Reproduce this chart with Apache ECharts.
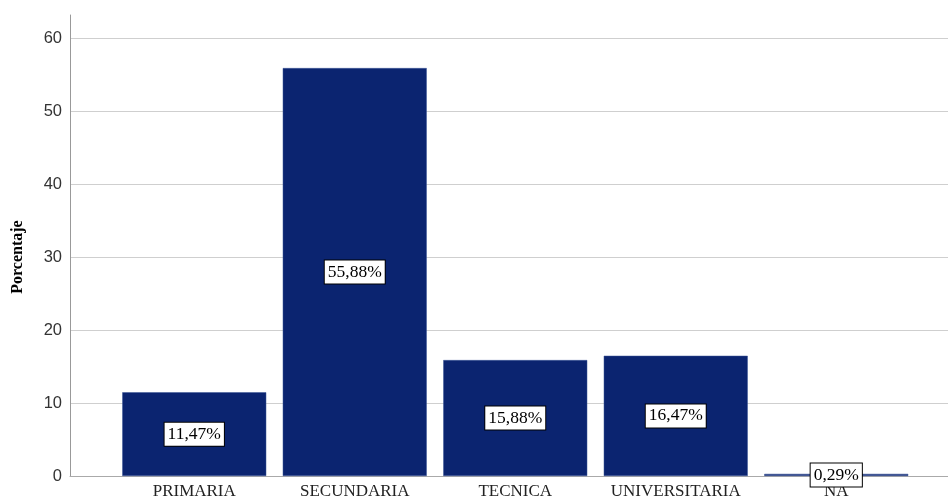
<!DOCTYPE html>
<html><head><meta charset="utf-8">
<script src="https://cdn.jsdelivr.net/npm/echarts@6/dist/echarts.min.js"></script>
<style>html,body{margin:0;padding:0;background:#fff}#c{width:948px;height:502px}</style>
</head><body><div id="c"></div>
<script>
const categories = ['PRIMARIA','SECUNDARIA','TECNICA','UNIVERSITARIA','NA'];
const values = [11.47, 55.88, 15.88, 16.47, 0.29];
const valueLabels = ['11,47%','55,88%','15,88%','16,47%','0,29%'];
const yTicks = [0,10,20,30,40,50,60];

const chart = echarts.init(document.getElementById('c'));
const yMax = 63.15;
chart.setOption({
  animation:false,
  grid:[
    {left:70, right:0, top:38, bottom:26},
    {left:114, width:802.5, top:15, bottom:26}
  ],
  xAxis:[
    {gridIndex:0, type:'value', min:0, max:1,
     axisLine:{show:true, lineStyle:{color:'#aaa', width:1}}, axisTick:{show:false}, axisLabel:{show:false}, splitLine:{show:false}},
    {gridIndex:1, type:'category', data:categories,
     axisLine:{show:false}, axisTick:{show:false},
     axisLabel:{interval:0, margin:7, fontFamily:'Liberation Serif', fontSize:17, color:'#222'}}
  ],
  yAxis:[
    {gridIndex:0, type:'value', min:0, max:yTicks[yTicks.length-1], interval:10,
     axisLine:{show:false}, axisTick:{show:false},
     axisLabel:{margin:8, fontFamily:'Liberation Sans', fontSize:16.5, color:'#333'},
     splitLine:{show:true, lineStyle:{color:'#cfcfcf', width:1}},
     name:'Porcentaje', nameLocation:'middle', nameGap:44,
     nameTextStyle:{fontFamily:'Liberation Serif', fontWeight:'bold', fontSize:16, color:'#000'}},
    {gridIndex:1, type:'value', min:0, max:yMax, offset:44,
     axisLine:{show:true, lineStyle:{color:'#999', width:1}}, axisTick:{show:false},
     axisLabel:{show:false}, splitLine:{show:false}}
  ],
  series:[{
    type:'bar', xAxisIndex:1, yAxisIndex:1, data:values, barWidth:144,
    itemStyle:{color:'#0b2470', borderColor:'#3a5596', borderWidth:0.5},
    label:{show:true, position:'inside', formatter:p=>valueLabels[p.dataIndex],
      fontFamily:'Liberation Serif', fontSize:17.5, color:'#000',
      backgroundColor:'#fff', borderColor:'#000', borderWidth:1, padding:[3,3,2,3]}
  }]
});
</script></body></html>
